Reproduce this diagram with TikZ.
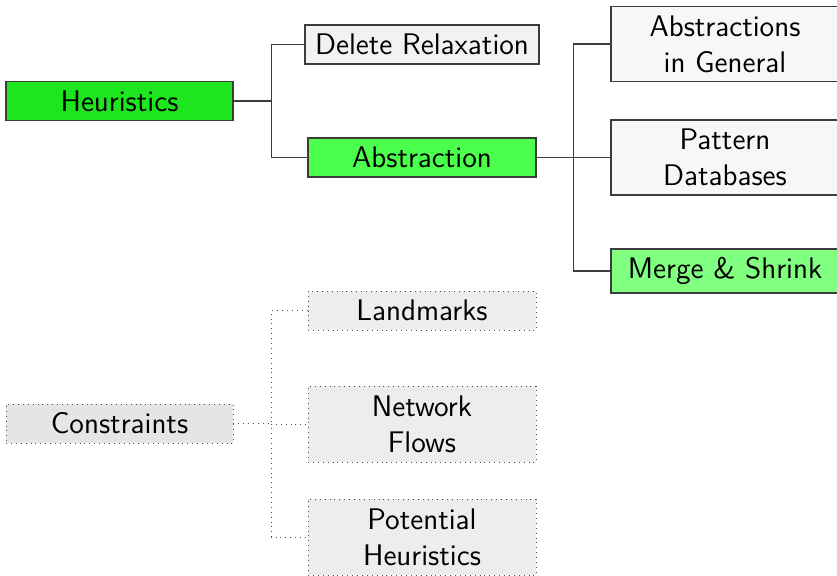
\documentclass[tikz,border=0pt]{standalone}
\usetikzlibrary{calc}
\definecolor{heurgreen}{RGB}{30,230,30}
\definecolor{absgreen}{RGB}{76,255,76}
\definecolor{msgreen}{RGB}{128,255,128}
\definecolor{linegray}{RGB}{60,60,60}
\tikzset{
  box/.style={draw=linegray, line width=0.6pt, minimum width=114pt, minimum height=19.5pt,
    inner sep=0pt, align=center, font=\sffamily\fontsize{14.9}{18}\selectfont},
  tallbox/.style={box, minimum height=37.5pt},
  dotbox/.style={box, draw=black!70, line width=0.45pt, dotted},
  conn/.style={draw=linegray, line width=0.6pt},
  dotconn/.style={draw=black!70, line width=0.45pt, dotted},
}
\begin{document}
\begin{tikzpicture}[x=0.5pt,y=-0.5pt]
\useasboundingbox (0,0) rectangle (837,575);
\node[box, fill=heurgreen, minimum width=113.5pt] (heu) at (119.5,101) {Heuristics};
\node[box, fill=black!5, minimum width=117pt] (del) at (422,44.5) {Delete Relaxation};
\node[box, fill=absgreen] (abs) at (422,157.5) {Abstraction};
\node[tallbox, fill=black!3] (gen) at (725,44) {Abstractions\\in General};
\node[tallbox, fill=black!3] (pdb) at (725,157.5) {Pattern\\Databases};
\node[box, fill=msgreen, minimum height=22pt] (ms) at (725,271) {Merge \& Shrink};
\node[dotbox, fill=black!7] (lm) at (422,310.5) {Landmarks};
\node[dotbox, fill=black!7, minimum height=38pt] (nf) at (422,424) {Network\\Flows};
\node[dotbox, fill=black!7, minimum height=38pt] (ph) at (422,537) {Potential\\Heuristics};
\node[dotbox, fill=black!10, minimum width=113.5pt] (con) at (119.5,423.5) {Constraints};
\draw[conn] (heu.east) -- ++(38,0) coordinate (hj) |- (del.west);
\draw[conn] (hj) |- (abs.west);
\draw[conn] (abs.east) -- ++(37,0) coordinate (aj) |- (gen.west);
\draw[conn] (aj) |- (pdb.west);
\draw[conn] (aj) |- (ms.west);
\draw[dotconn] (con.east) -- ++(38,0) coordinate (cj) |- (lm.west);
\draw[dotconn] (cj) |- (nf.west);
\draw[dotconn] (cj) |- (ph.west);
\end{tikzpicture}
\end{document}
